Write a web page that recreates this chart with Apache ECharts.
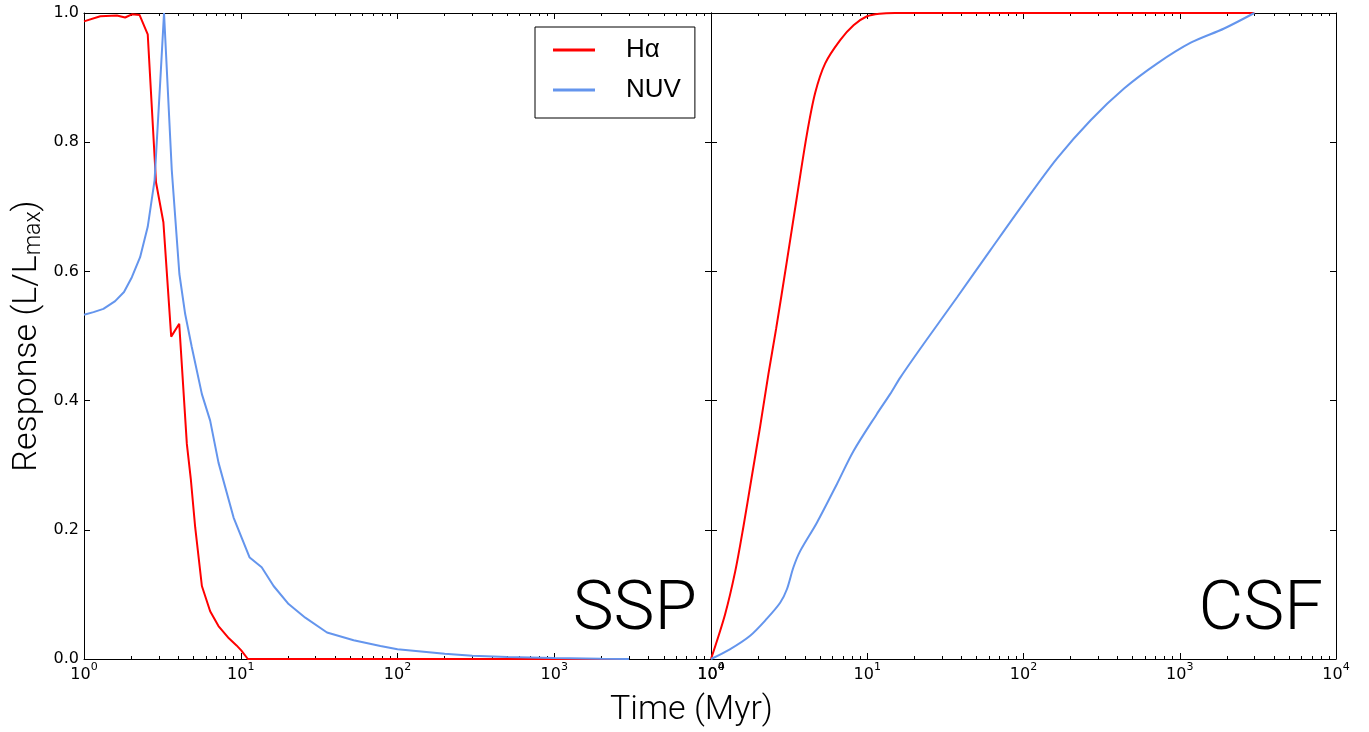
<!DOCTYPE html>
<html><head><meta charset="utf-8">
<script src="https://cdn.jsdelivr.net/npm/echarts@6/dist/echarts.min.js"></script>
<style>html,body{margin:0;padding:0;background:#fff}#c{width:1369px;height:732px}</style>
</head><body><div id="c"></div>
<script>
// ---- data ----
const sspHaTime  = [1.0, 1.27, 1.62, 1.83, 2.02, 2.26, 2.55, 2.88, 3.21, 3.6, 4.05, 4.53, 4.8, 5.12, 5.65, 6.38, 7.21, 8.4, 9.4, 10.1, 11.1, 3000];
const sspHaValue = [0.987, 0.995, 0.996, 0.993, 0.998, 0.997, 0.967, 0.738, 0.676, 0.499, 0.519, 0.333, 0.279, 0.204, 0.113, 0.074, 0.051, 0.032, 0.021, 0.013, 0.0, 0.0];
const sspNuvTime  = [1.0, 1.15, 1.33, 1.58, 1.8, 2.02, 2.28, 2.55, 2.82, 3.06, 3.24, 3.63, 4.06, 4.42, 4.87, 5.65, 6.38, 7.21, 9.0, 11.4, 13.6, 16.2, 20.2, 25.8, 35.5, 52.5, 77.8, 100, 200, 300, 500, 1000, 2000, 3000];
const sspNuvValue = [0.533, 0.537, 0.542, 0.554, 0.568, 0.591, 0.622, 0.669, 0.741, 0.891, 1.0, 0.757, 0.596, 0.534, 0.483, 0.41, 0.369, 0.304, 0.219, 0.157, 0.142, 0.113, 0.085, 0.064, 0.041, 0.029, 0.020, 0.015, 0.008, 0.005, 0.003, 0.0015, 0.0005, 0.0];
const csfHaTime  = [1.0, 1.23, 1.43, 1.61, 1.82, 2.06, 2.33, 2.61, 3.06, 3.54, 4.1, 4.64, 5.38, 6.71, 8.17, 9.96, 12, 15, 3000];
const csfHaValue = [0.0, 0.069, 0.136, 0.204, 0.281, 0.359, 0.441, 0.511, 0.616, 0.714, 0.811, 0.876, 0.922, 0.958, 0.981, 0.995, 0.999, 1.0, 1.0];
const csfNuvTime  = [1.0, 1.32, 1.78, 2.27, 2.77, 3.06, 3.37, 3.72, 4.76, 6.4, 8.17, 11.5, 14.0, 16.3, 23, 37.6, 61.4, 100, 164, 269, 440, 719, 1176, 1923, 3000];
const csfNuvValue = [0.0, 0.015, 0.036, 0.062, 0.087, 0.108, 0.142, 0.167, 0.211, 0.271, 0.322, 0.379, 0.41, 0.436, 0.488, 0.560, 0.633, 0.705, 0.775, 0.834, 0.883, 0.922, 0.954, 0.976, 1.0];
const seriesNames = ['Hα', 'NUV'];
const panelLabels = ['SSP', 'CSF'];
const xTitle = 'Time (Myr)';
const minorMantissas = [2, 3, 4, 5, 6, 7, 8, 9];
const decades = [0, 1, 2, 3];

// minor tick positions (log10 space) for decoration axes
const minorTickValues = [];
decades.forEach(d => minorMantissas.forEach(m => minorTickValues.push(d + Math.log10(m))));

const pairs = (t, v) => t.map((x, i) => [x, v[i]]);
const RED = '#ff0000', BLUE = '#6495ed';

function logAxis(gi, pos, showLabel) {
  return {
    type: 'log', logBase: 10, gridIndex: gi, position: pos, min: 1, max: 10000,
    axisLine: { show: true, onZero: false, lineStyle: { color: '#000', width: 1 } },
    axisTick: { show: true, inside: true, length: 6, lineStyle: { color: '#000', width: 1 } },
    axisLabel: {
      show: showLabel, margin: 3,
      formatter: v => '{b|10}{s|' + Math.round(Math.log10(v)) + '}',
      rich: {
        b: { fontFamily: 'DejaVu Sans', fontSize: 16, color: '#000' },
        s: { fontFamily: 'DejaVu Sans', fontSize: 11, color: '#000', padding: [0, 0, 14, 0] }
      }
    },
    splitLine: { show: false }, minorTick: { show: false }
  };
}
function minorAxis(gi, pos) {
  return {
    type: 'value', gridIndex: gi, position: pos, min: 0, max: 4,
    axisLine: { show: false, onZero: false },
    axisTick: { show: true, inside: true, length: 3, customValues: minorTickValues, lineStyle: { color: '#000', width: 1 } },
    axisLabel: { show: false, customValues: minorTickValues },
    splitLine: { show: false }
  };
}
function yAxis(gi, pos, showLabel) {
  return {
    type: 'value', gridIndex: gi, position: pos, min: 0, max: 1, interval: 0.2,
    axisLine: { show: true, onZero: false, lineStyle: { color: '#000', width: 1 } },
    axisTick: { show: true, inside: true, length: 6, lineStyle: { color: '#000', width: 1 } },
    axisLabel: { show: showLabel, margin: 5, formatter: v => v.toFixed(1), fontFamily: 'DejaVu Sans', fontSize: 16, color: '#000' },
    splitLine: { show: false }
  };
}
const y0 = yAxis(0, 'left', true);
y0.name = '{a|Response (L/L}{s|max}{a|)}';
y0.nameLocation = 'middle';
y0.nameRotate = 90;
y0.nameGap = 38;
y0.nameTextStyle = {
  rich: {
    a: { fontFamily: 'Roboto', fontWeight: 300, fontSize: 34, color: '#000' },
    s: { fontFamily: 'Roboto', fontWeight: 300, fontSize: 23, color: '#000', padding: [15, 0, 0, 0] }
  }
};

function lineSeries(name, xi, yi, data, color, z, smooth) {
  return {
    name: name, type: 'line', xAxisIndex: xi, yAxisIndex: yi, data: data,
    showSymbol: false, symbol: 'none', clip: false, z: z,
    smooth: smooth,
    lineStyle: { color: color, width: 2 }, itemStyle: { color: color }
  };
}

const chart = echarts.init(document.getElementById('c'), null, { renderer: 'canvas' });
chart.setOption({
  backgroundColor: '#fff',
  animation: false,
  grid: [
    { left: 84, top: 13, width: 627, height: 646 },
    { left: 711, top: 13, width: 625, height: 646 }
  ],
  xAxis: [
    logAxis(0, 'bottom', true), minorAxis(0, 'bottom'), logAxis(0, 'top', false), minorAxis(0, 'top'),
    logAxis(1, 'bottom', true), minorAxis(1, 'bottom'), logAxis(1, 'top', false), minorAxis(1, 'top')
  ],
  yAxis: [y0, yAxis(0, 'right', false), yAxis(1, 'left', false), yAxis(1, 'right', false)],
  legend: {
    data: seriesNames, left: 535, top: 27, orient: 'vertical',
    icon: 'rect', itemWidth: 42, itemHeight: 3, itemGap: 10,
    borderColor: '#000', borderWidth: 1, borderRadius: 0, padding: [8, 14, 13, 18],
    textStyle: { fontFamily: 'Liberation Sans', fontSize: 26, lineHeight: 30, color: '#000', padding: [0, 0, 0, 26] }
  },
  series: [
    lineSeries(seriesNames[0], 0, 0, pairs(sspHaTime, sspHaValue), RED, 3, false),
    lineSeries(seriesNames[1], 0, 0, pairs(sspNuvTime, sspNuvValue), BLUE, 4, false),
    lineSeries(seriesNames[0], 4, 2, pairs(csfHaTime, csfHaValue), RED, 3, 0.3),
    lineSeries(seriesNames[1], 4, 2, pairs(csfNuvTime, csfNuvValue), BLUE, 4, 0.3)
  ],
  graphic: [
    { type: 'text', right: 1369 - 697, top: 577, style: { text: panelLabels[0], fontFamily: 'Roboto', fontWeight: 300, fontSize: 69, fill: '#000' } },
    { type: 'text', right: 1369 - 1323, top: 577, style: { text: panelLabels[1], fontFamily: 'Roboto', fontWeight: 300, fontSize: 69, fill: '#000' } },
    { type: 'text', left: 610, top: 693, style: { text: xTitle, fontFamily: 'Roboto', fontWeight: 300, fontSize: 34, fill: '#000' } }
  ]
});
</script></body></html>
